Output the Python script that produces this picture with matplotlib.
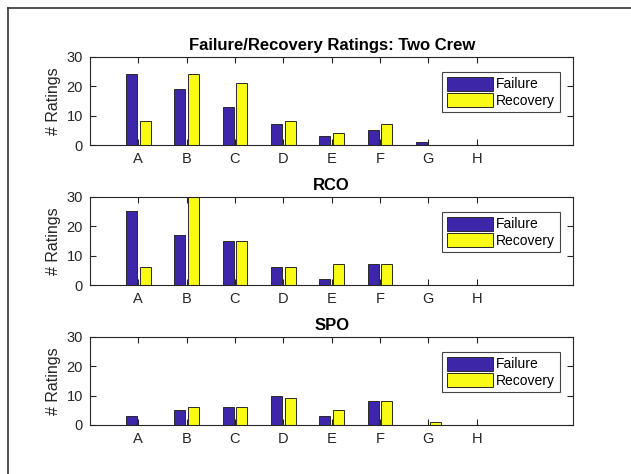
import matplotlib.pyplot as plt
import numpy as np
from matplotlib.lines import Line2D

plt.rcParams['font.family'] = ['Liberation Sans', 'DejaVu Sans']

# ratings per category
categories = ['A', 'B', 'C', 'D', 'E', 'F', 'G', 'H']
two_crew_failure = [24, 19, 13, 7, 3, 5, 1, 0]
two_crew_recovery = [8, 24, 21, 8, 4, 7, 0, 0]
rco_failure = [25, 17, 15, 6, 2, 7, 0, 0]
rco_recovery = [6, 30, 15, 6, 7, 7, 0, 0]
spo_failure = [3, 5, 6, 10, 3, 8, 0, 0]
spo_recovery = [0, 6, 6, 9, 5, 8, 1, 0]

titles = ['Failure/Recovery Ratings: Two Crew', 'RCO', 'SPO']
panels = [(two_crew_failure, two_crew_recovery),
          (rco_failure, rco_recovery),
          (spo_failure, spo_recovery)]

blue = '#3e26a8'
yellow = '#f9fb15'

fig = plt.figure(figsize=(6.31, 4.74), dpi=100)

# figure frame (only top and left edges visible in the original)
fig.add_artist(Line2D([7.5 / 631, 7.5 / 631], [0, 1 - 8 / 474], transform=fig.transFigure,
                      color='#333333', lw=1.2))
fig.add_artist(Line2D([7.5 / 631, 1], [1 - 8 / 474, 1 - 8 / 474], transform=fig.transFigure,
                      color='#333333', lw=1.2))

bottoms = [0.694, 0.3987, 0.1034]
x = np.arange(1, len(categories) + 1)
w = 0.2286
off = 0.143

for i in range(3):
    ax = fig.add_axes([0.1426, bottoms[i], 0.766, 0.1863])
    fail, rec = panels[i]
    ax.bar(x - off, fail, w, color=blue, edgecolor='#2a2a2a', linewidth=0.7, label='Failure')
    ax.bar(x + off, rec, w, color=yellow, edgecolor='#2a2a2a', linewidth=0.7, label='Recovery')
    ax.set_xlim(0, 10)
    ax.set_ylim(0, 30)
    ax.set_yticks([0, 10, 20, 30])
    ax.set_xticks(x)
    ax.set_xticklabels(categories)
    ax.tick_params(direction='in', top=True, right=True, length=4, labelsize=10.5,
                   colors='#262626', pad=5)
    for s in ax.spines.values():
        s.set_color('#262626')
        s.set_linewidth(0.8)
    ax.set_ylabel('# Ratings', fontsize=11.5, color='#262626', labelpad=4)
    ax.set_title(titles[i], fontsize=12, fontweight='bold', pad=5)
    leg = ax.legend(loc='upper right', bbox_to_anchor=(0.972, 0.83), fontsize=10,
                    handlelength=3.3, handleheight=1.2, handletextpad=0.2,
                    labelspacing=0.1, borderpad=0.35, borderaxespad=0,
                    fancybox=False, framealpha=1)
    leg.get_frame().set_edgecolor('#444444')
    leg.get_frame().set_linewidth(0.8)

fig.savefig('out.png', dpi=100)
